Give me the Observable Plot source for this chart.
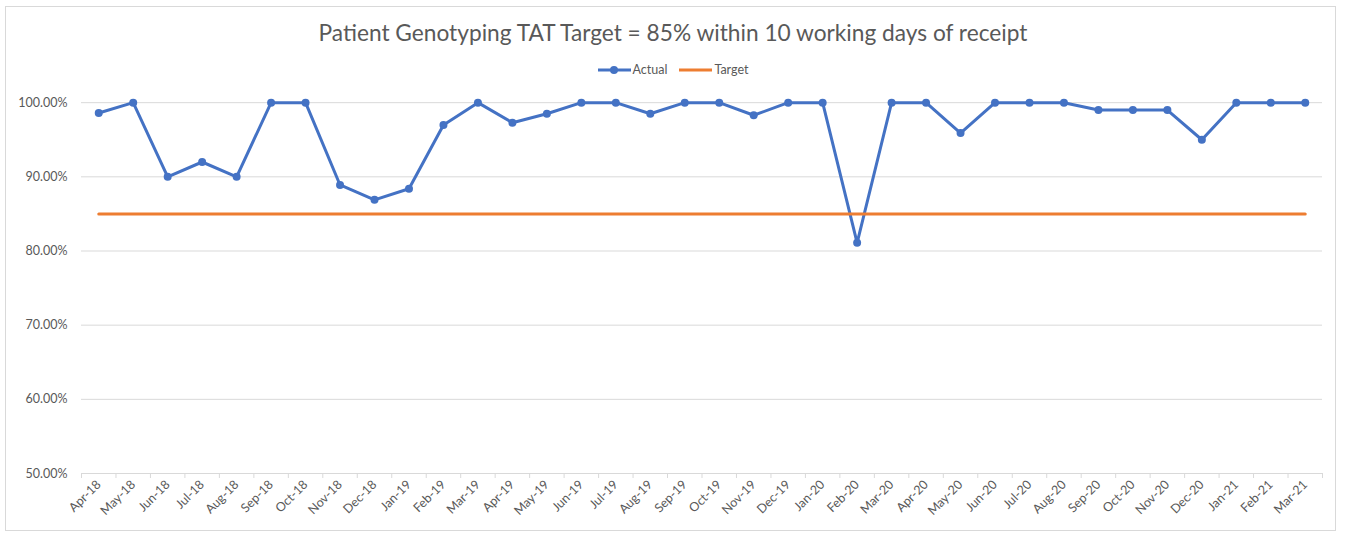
<!DOCTYPE html>
<html>
<head>
<meta charset="utf-8">
<script src="https://cdn.jsdelivr.net/npm/d3@7"></script>
<script src="https://cdn.jsdelivr.net/npm/@observablehq/plot@0.6"></script>
<style>
  html, body { margin: 0; padding: 0; background: #fff; }
  #wrap { position: relative; width: 1346px; height: 534px; overflow: hidden; font-family: Lato, "Open Sans", sans-serif; }
  #frame { position: absolute; left: 5px; top: 6px; width: 1331px; height: 525px; border: 1px solid #d9d9d9; box-sizing: border-box; }
  #title { position: absolute; left: 0; top: 18px; width: 1346px; text-align: center; font-size: 22.7px; line-height: 30px; color: #595959; }
  #legend { position: absolute; left: 0; top: 62px; width: 1346px; display: flex; justify-content: center; align-items: center; font-size: 12.5px; color: #595959; line-height: 16px; }
  #legend .item { display: flex; align-items: center; margin: 0 6px; }
  #legend svg { display: block; margin-right: 2px; }
  #chart { position: absolute; left: 0; top: 0; }
</style>
</head>
<body>
<div id="wrap">
  <div id="frame"></div>
  <div id="chart"></div>
  <div id="title">Patient Genotyping TAT Target = 85% within 10 working days of receipt</div>
  <div id="legend"></div>
</div>
<script>
const months = ["Apr-18","May-18","Jun-18","Jul-18","Aug-18","Sep-18","Oct-18","Nov-18","Dec-18","Jan-19","Feb-19","Mar-19",
  "Apr-19","May-19","Jun-19","Jul-19","Aug-19","Sep-19","Oct-19","Nov-19","Dec-19","Jan-20","Feb-20","Mar-20",
  "Apr-20","May-20","Jun-20","Jul-20","Aug-20","Sep-20","Oct-20","Nov-20","Dec-20","Jan-21","Feb-21","Mar-21"];
const actual = [98.6, 100, 90, 92, 90, 100, 100, 88.9, 86.9, 88.4, 97.0, 100,
  97.3, 98.5, 100, 100, 98.5, 100, 100, 98.3, 100, 100, 81.1, 100,
  100, 95.9, 100, 100, 100, 99.0, 99.0, 99.0, 95.0, 100, 100, 100];
const targetValue = 85;
const yTicks = [50, 60, 70, 80, 90, 100];
const seriesNames = ["Actual", "Target"];
const seriesColors = ["#4472C4", "#ED7D31"];

const data = months.map((m, i) => ({ i, month: m, actual: actual[i], target: targetValue }));
const boundaries = d3.range(months.length + 1).map(i => i - 0.5);

const chart = Plot.plot({
  width: 1346,
  height: 534,
  marginTop: 28,
  marginBottom: 61,
  marginLeft: 81,
  marginRight: 24,
  style: { fontFamily: "Lato, 'Open Sans', sans-serif", fontSize: "12.5px", color: "#595959", background: "transparent" },
  x: { type: "linear", domain: [-0.5, months.length - 0.5] },
  y: { domain: [50, 110] },
  marks: [
    Plot.gridY(yTicks, { stroke: "#d9d9d9", strokeOpacity: 1, strokeWidth: 1 }),
    Plot.axisY(yTicks, { tickSize: 0, tickPadding: 14, tickFormat: d => d.toFixed(2) + "%", label: null, fill: "#595959" }),
    Plot.axisX(boundaries, { tickSize: 5, stroke: "#d9d9d9", strokeOpacity: 1, tickFormat: () => "", label: null }),
    Plot.axisX(d3.range(months.length), { tickSize: 0, tickPadding: 9, tickRotate: -45, tickFormat: i => months[i], label: null, fill: "#595959" }),
    Plot.lineY(data, { x: "i", y: "actual", stroke: seriesColors[0], strokeWidth: 3, strokeLinejoin: "round" }),
    Plot.dot(data, { x: "i", y: "actual", r: 4, fill: seriesColors[0], stroke: "none" }),
    Plot.lineY(data, { x: "i", y: "target", stroke: seriesColors[1], strokeWidth: 3 })
  ]
});
document.getElementById("chart").appendChild(chart);

const legend = document.getElementById("legend");
seriesNames.forEach((name, k) => {
  const item = document.createElement("div");
  item.className = "item";
  const dot = k === 0 ? `<circle cx="16" cy="5" r="4" fill="${seriesColors[k]}"/>` : "";
  item.innerHTML = `<svg width="33" height="10"><line x1="0" x2="33" y1="5" y2="5" stroke="${seriesColors[k]}" stroke-width="3"/>${dot}</svg><span>${name}</span>`;
  legend.appendChild(item);
});
</script>
</body>
</html>
